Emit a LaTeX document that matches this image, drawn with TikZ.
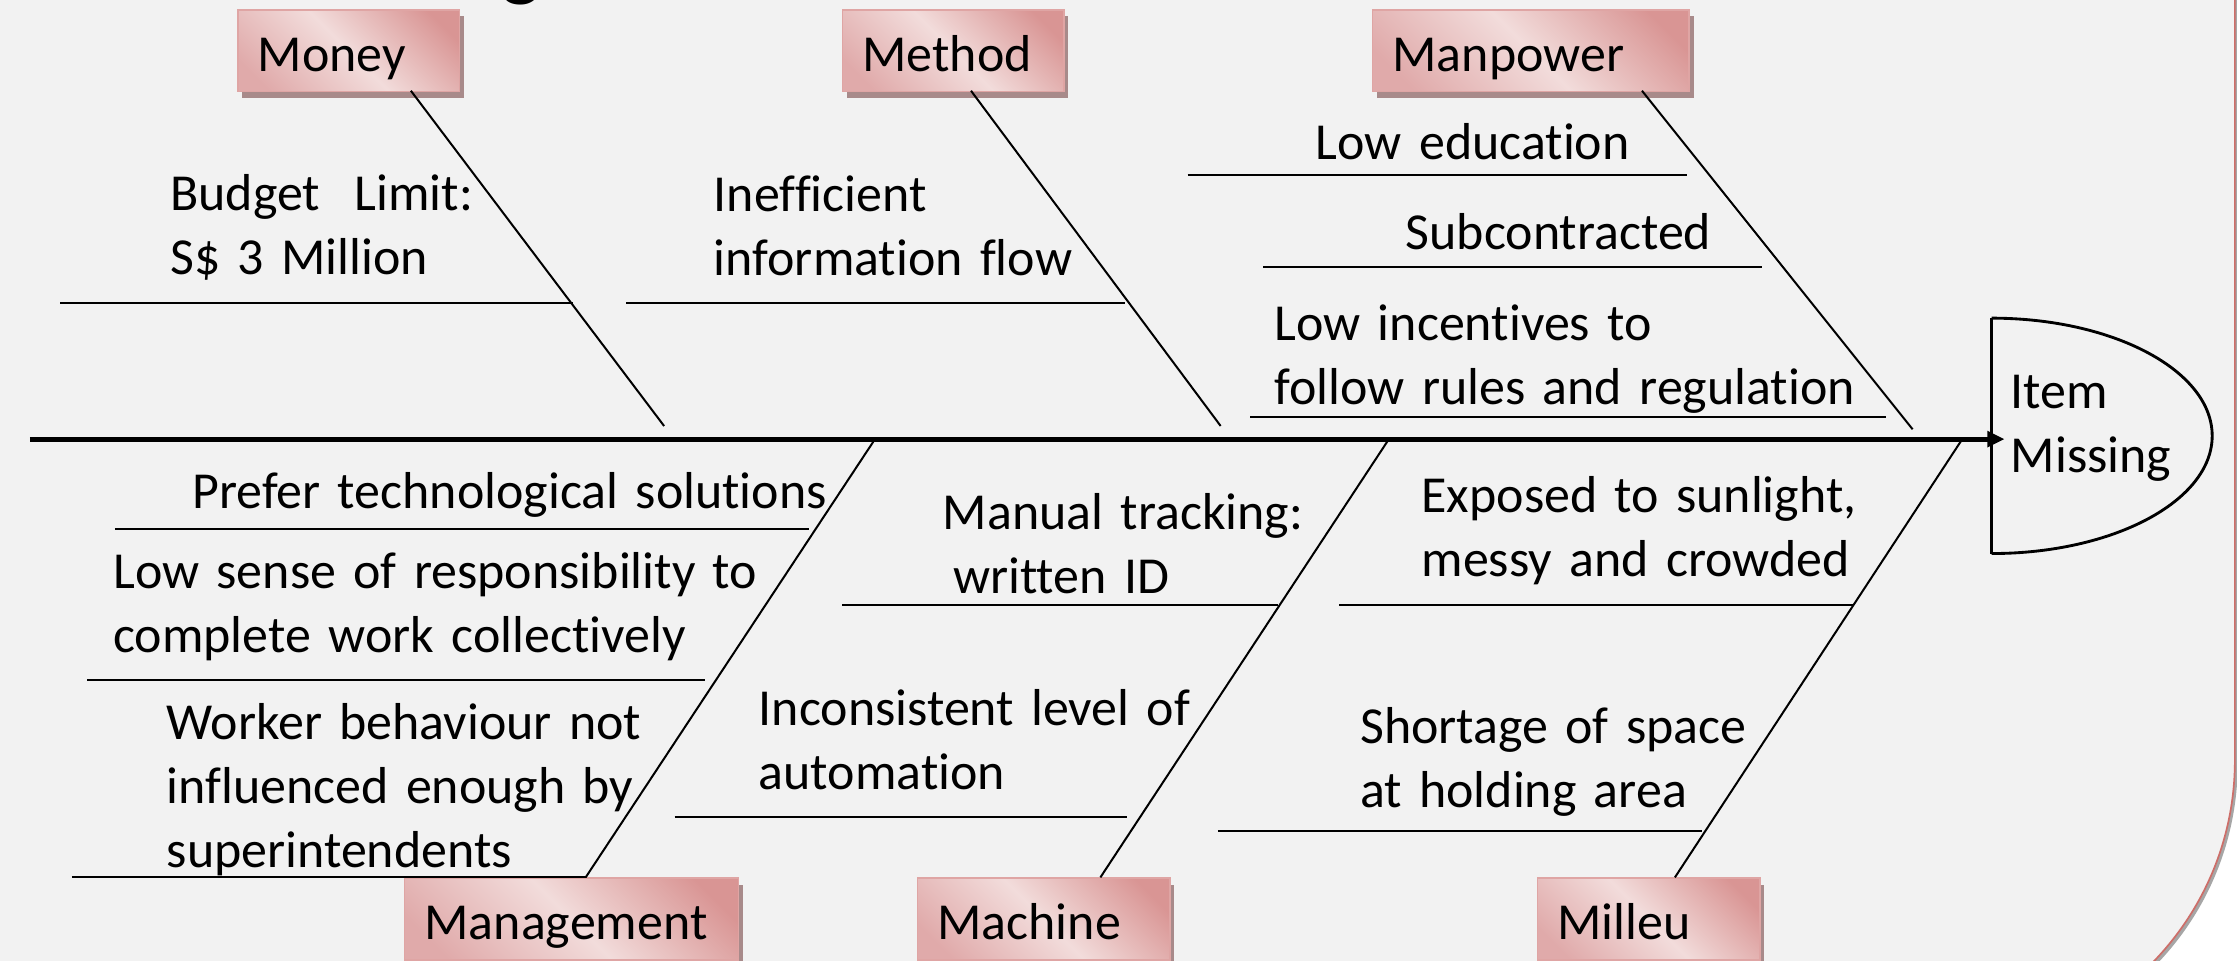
\documentclass[tikz,border=0pt]{standalone}
\usepackage{fontspec}
\setmainfont{Carlito}[Ligatures=NoCommon]
\usetikzlibrary{arrows.meta,shadows}
\definecolor{bggrey}{HTML}{F2F2F2}
\definecolor{slideedge}{RGB}{205,110,105}
\definecolor{slideshadow}{HTML}{A6A6A6}
\definecolor{pkdark}{HTML}{D99594}
\definecolor{pkmid}{HTML}{E0AAAA}
\definecolor{pklight}{HTML}{F2DCDB}
\definecolor{boxedge}{HTML}{DFA5A4}
\definecolor{boxshadow}{HTML}{A88A8A}
\pgfdeclarehorizontalshading{pinkdiag}{100bp}{color(0bp)=(pkmid); color(22bp)=(pkmid); color(50bp)=(pklight); color(78bp)=(pkdark); color(100bp)=(pkdark)}
\protected\def\fishfont{\fontsize{18.2}{22.5}\selectfont}
\begin{document}
\begin{tikzpicture}[x=0.5pt,y=-0.5pt,
  every node/.style={font=\fishfont, inner sep=0pt},
  catbox/.style={anchor=north west, draw=boxedge, line width=0.6pt, shade, shading=pinkdiag, shading angle=45,
    inner xsep=7pt, inner ysep=0pt, text height=21.5pt, text depth=7.05pt, align=left,
    general shadow={fill=boxshadow, shadow xshift=1.5pt, shadow yshift=-2.2pt}},
  cause/.style={anchor=base west, text width=260pt, align=left},
  bone/.style={line width=0.7pt, black},
  subline/.style={line width=0.7pt, black},
  spine/.style={line width=1.7pt, -{Triangle[length=6pt,width=5.4pt]}},
  headline/.style={line width=1pt},
]
\useasboundingbox (0,0) rectangle (1568,673);
% slide background
\fill[white] (0,0) rectangle (1568,673);
\fill[slideshadow] (-18,-18) -- (1568.5,-18) -- (1568.5,535) .. controls (1568.5,647.1) and (1477.6,738) .. (1365.5,738) -- (-18,738) -- cycle;
\path[fill=bggrey, draw=slideedge, line width=0.6pt] (-20,-20) -- (1566.5,-20) -- (1566.5,533) .. controls (1566.5,645.1) and (1475.6,736) .. (1363.5,736) -- (-20,736) -- cycle;

% partial title
\node[font=\bfseries\fontsize{28}{30}\selectfont, anchor=base west] (title) at (352,-6) {g};

% category boxes
\node[catbox, text width=63.7pt] (money) at (166,6.5) {Money};
\node[catbox, text width=63.5pt] (method) at (590,6.5) {Method};
\node[catbox, text width=97pt] (manpower) at (961.5,6.5) {Manpower};
\node[catbox, text width=103pt] (management) at (283,615) {Management};
\node[catbox, text width=74.5pt] (machine) at (642.5,615) {Machine};
\node[catbox, text width=64pt] (milleu) at (1077,615) {Milleu};

% spine and head
\coordinate (tail) at (21,307.8);
\coordinate (headtip) at (1405,307.8);
\begin{scope}
  \clip (1396,200) rectangle (1600,410);
  \draw[headline] (1396,305.5) ellipse [x radius=77.3pt, y radius=41.25pt];
\end{scope}
\draw[headline] (1396,223) -- (1396,388);
\draw[spine] (tail) -- (headtip);
\node[cause] (head) at (1409,286) {Item\\Missing};

% bone coordinates
\coordinate (moneyA) at (288,63.6);       \coordinate (moneyB) at (465.5,298.6);
\coordinate (methodA) at (680.6,63.6);    \coordinate (methodB) at (855.6,298.6);
\coordinate (manpowerA) at (1150.9,63.6); \coordinate (manpowerB) at (1340.6,300.9);
\coordinate (managementA) at (612.2,309.5); \coordinate (managementB) at (410.5,615);
\coordinate (machineA) at (972.4,309.5);  \coordinate (machineB) at (771.3,615);
\coordinate (milleuA) at (1374.3,309.5);  \coordinate (milleuB) at (1174,615);

\draw[bone] (moneyA) -- (moneyB);
\draw[bone] (methodA) -- (methodB);
\draw[bone] (manpowerA) -- (manpowerB);
\draw[bone] (managementA) -- (managementB);
\draw[bone] (machineA) -- (machineB);
\draw[bone] (milleuA) -- (milleuB);

% sub-cause underlines
\draw[subline] (42.3,212.2) -- (401.5,212.2);
\draw[subline] (439,212.2) -- (788.5,212.2);
\draw[subline] (832.5,122.7) -- (1182.7,122.7);
\draw[subline] (885.5,186.9) -- (1235,186.9);
\draw[subline] (876.2,292.5) -- (1321.8,292.5);
\draw[subline] (80.5,371) -- (567.3,371);
\draw[subline] (61.2,476.9) -- (494.1,476.9);
\draw[subline] (50.3,614.6) -- (410.4,614.6);
\draw[subline] (590.5,424.3) -- (896,424.3);
\draw[subline] (472.8,572.4) -- (790,572.4);
\draw[subline] (938.7,424.3) -- (1299.2,424.3);
\draw[subline] (853.7,582.8) -- (1192.8,582.8);

% sub-cause texts
\node[cause] (budget) at (119,147.7) {Budget\ \ Limit:\\S\$ 3 Million};
\node[cause] (ineff) at (500,148) {Inefficient\\information flow};
\node[cause] (loweduc) at (922,111.7) {Low education};
\node[cause] (subcon) at (985,175.2) {Subcontracted};
\node[cause] (lowinc) at (893,238.8) {Low incentives to\\follow rules and regulation};
\node[cause] (prefer) at (134.5,356.7) {Prefer technological solutions};
\node[cause] (lowsense) at (79,412.5) {Low sense of responsibility to\\complete work collectively};
\node[cause] (worker) at (116.5,518.2) {Worker behaviour not\\influenced enough by\\superintendents};
\node[cause] (manual) at (660.5,371.2) {Manual tracking:\\\hspace*{3.6pt}written ID};
\node[cause] (incons) at (531.5,508.7) {Inconsistent level of\\automation};
\node[cause] (exposed) at (996,359.1) {Exposed to sunlight,\\messy and crowded};
\node[cause] (shortage) at (953,521.3) {Shortage of space\\at holding area};
\end{tikzpicture}
\end{document}
